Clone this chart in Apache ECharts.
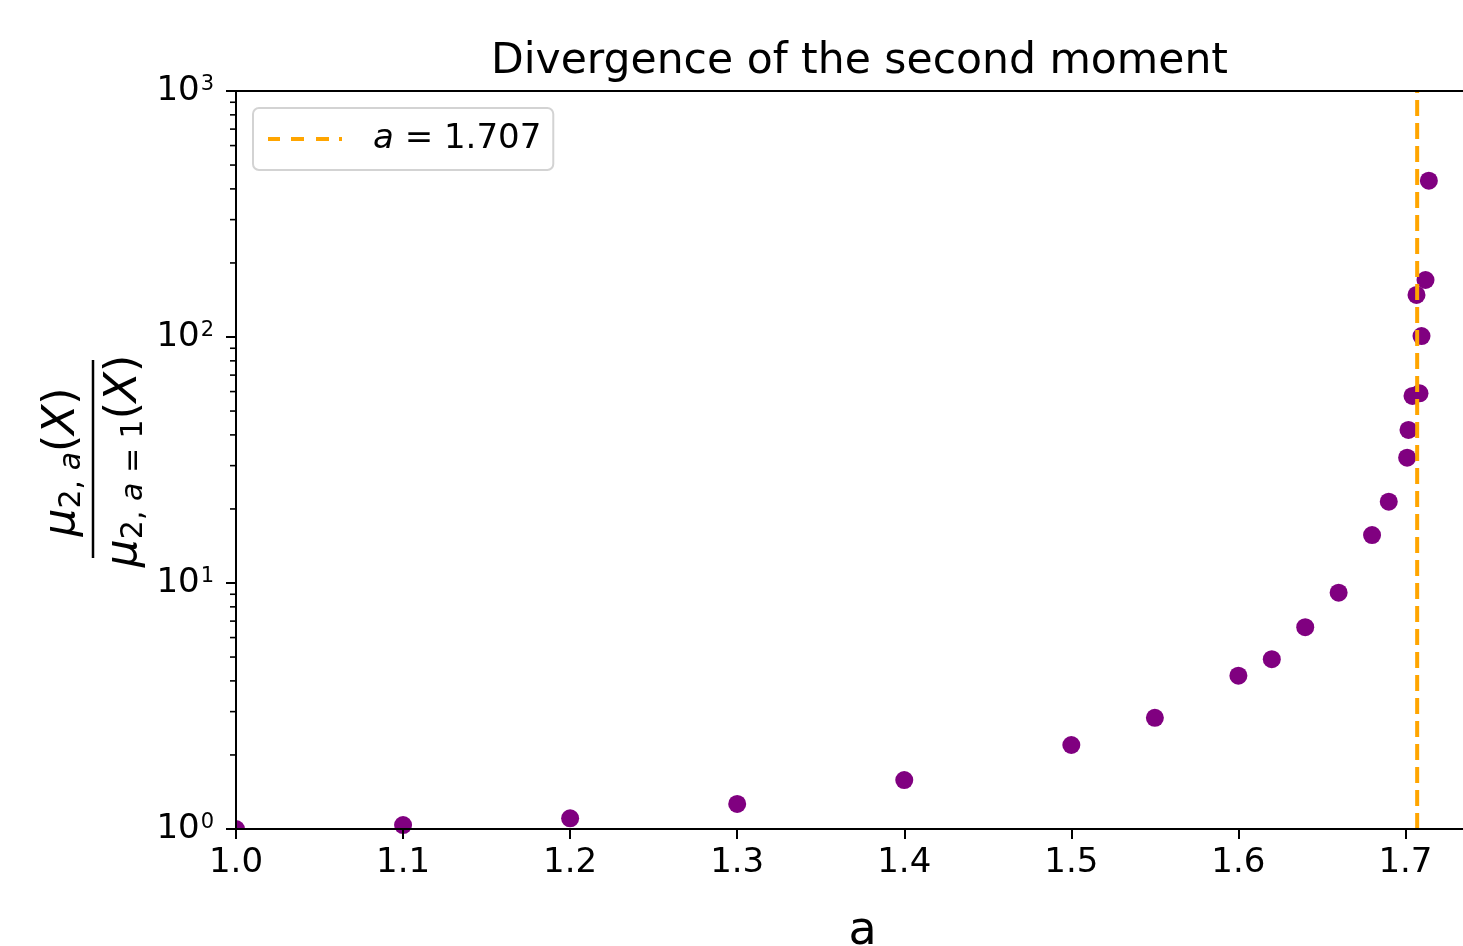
<!DOCTYPE html>
<html>
<head>
<meta charset="utf-8">
<script src="https://cdn.jsdelivr.net/npm/echarts@6/dist/echarts.min.js"></script>
<style>
  html, body { margin: 0; padding: 0; background: #fff; }
  #chart { width: 1463px; height: 946px; }
</style>
</head>
<body>
<div id="chart"></div>
<script>
// ---- data ----
const aValues = [1.0, 1.1, 1.2, 1.3, 1.4, 1.5, 1.55, 1.6, 1.62, 1.64, 1.66, 1.68, 1.69,
                 1.7010, 1.7018, 1.7042, 1.7084, 1.7096, 1.7066, 1.7120, 1.7140];
const ratioValues = [1.0, 1.038, 1.105, 1.264, 1.581, 2.195, 2.83, 4.20, 4.90, 6.61, 9.13, 15.67, 21.4,
                     32.3, 41.9, 57.6, 59.0, 100.9, 148.2, 170.5, 431.9];
const criticalA = 1.707;
const legendLabel = 'a = 1.707';
const xTickValues = [1.0, 1.1, 1.2, 1.3, 1.4, 1.5, 1.6, 1.7];
const yMinorTicks = [2, 3, 4, 5, 6, 7, 8, 9, 20, 30, 40, 50, 60, 70, 80, 90, 200, 300, 400, 500, 600, 700, 800, 900];

const X_MIN = 1.0, X_MAX = 1.75, Y_MIN = 1, Y_MAX = 1000;
const FONT = 'DejaVu Sans';

const scatterData = aValues.map((a, i) => [a, ratioValues[i]]);

const chart = echarts.init(document.getElementById('chart'), null, { renderer: 'canvas' });

const dashedIcon = 'path://M0,0h12v4h-12z M23,0h13v4h-13z M48,0h13v4h-13z M71,0h3v4h-3z';

const option = {
  animation: false,
  backgroundColor: '#ffffff',
  title: {
    text: 'Divergence of the second moment',
    left: 491,
    top: 40,
    padding: 0,
    textStyle: { fontFamily: FONT, fontSize: 42.5, fontWeight: 'normal', color: '#000' }
  },
  legend: {
    data: [{ name: legendLabel, icon: dashedIcon, itemStyle: { color: '#ffa500' } }],
    left: 253,
    top: 108,
    orient: 'vertical',
    padding: [14, 12, 14, 15],
    borderColor: '#d3d3d3',
    borderWidth: 2,
    borderRadius: 6,
    backgroundColor: '#fff',
    itemWidth: 74,
    itemHeight: 4,
    selectedMode: false,
    formatter: function () { return '{i|a} = 1.707'; },
    textStyle: {
      fontFamily: FONT, fontSize: 34, color: '#000',
      padding: [0, 0, 0, 26],
      rich: {
        i: { fontFamily: FONT, fontSize: 34, fontStyle: 'italic', color: '#000' }
      }
    }
  },
  grid: { left: 236, top: 91, right: -26, bottom: 117, containLabel: false, outerBoundsMode: 'none' },
  xAxis: [{
    type: 'value',
    min: X_MIN, max: X_MAX, interval: 0.1,
    z: 10,
    name: 'a',
    nameLocation: 'middle',
    nameGap: 80,
    nameTextStyle: { fontFamily: FONT, fontSize: 46, color: '#000' },
    axisLine: { show: true, onZero: false, lineStyle: { color: '#000', width: 2 } },
    axisTick: { show: true, inside: false, length: 10, lineStyle: { color: '#000', width: 2 } },
    axisLabel: {
      margin: 17, fontFamily: FONT, fontSize: 34, color: '#000',
      showMaxLabel: false,
      formatter: function (v) {
        const ok = xTickValues.some(t => Math.abs(t - v) < 1e-6);
        return ok ? v.toFixed(1) : '';
      }
    },
    splitLine: { show: false }
  }, {
    type: 'value',
    position: 'top',
    min: X_MIN, max: X_MAX,
    z: 10,
    axisLine: { show: true, onZero: false, lineStyle: { color: '#000', width: 2 } },
    axisTick: { show: false },
    axisLabel: { show: false },
    splitLine: { show: false }
  }],
  yAxis: {
    type: 'log',
    logBase: 10,
    min: Y_MIN, max: Y_MAX,
    z: 10,
    axisLine: { show: true, onZero: false, lineStyle: { color: '#000', width: 2 } },
    axisTick: { show: true, inside: false, length: 10, lineStyle: { color: '#000', width: 2 } },
    axisLabel: {
      margin: 22,
      formatter: function (v) {
        const e = Math.round(Math.log10(v));
        return '{b|10}{s|' + e + '}';
      },
      rich: {
        b: { fontFamily: FONT, fontSize: 34, color: '#000' },
        s: { fontFamily: FONT, fontSize: 21, color: '#000', padding: [0, 0, 12, 1] }
      }
    },
    splitLine: { show: false }
  },
  graphic: [
    // hide the part of the corner marker that lies outside the axes (matplotlib clipping)
    { type: 'rect', z: 5, shape: { x: 196, y: 808, width: 39, height: 44 }, style: { fill: '#fff' } },
    { type: 'rect', z: 5, shape: { x: 196, y: 830, width: 64, height: 22 }, style: { fill: '#fff' } },
    // y-axis label: fraction
    {
      type: 'text', z: 5, x: 63, y: 462, rotation: Math.PI / 2,
      style: {
        text: '{mi|μ}{s|2, }{si|a}{m|(}{mi|X}{m|)}',
        align: 'center', verticalAlign: 'middle',
        rich: {
          m: { fontFamily: FONT, fontSize: 44, fill: '#000' },
          mi: { fontFamily: FONT, fontSize: 44, fontStyle: 'italic', fill: '#000' },
          s: { fontFamily: FONT, fontSize: 30, fill: '#000', padding: [18, 0, 0, 0] },
          si: { fontFamily: FONT, fontSize: 30, fontStyle: 'italic', fill: '#000', padding: [18, 0, 0, 0] }
        }
      }
    },
    { type: 'line', z: 5, shape: { x1: 93, y1: 360, x2: 93, y2: 558 }, style: { stroke: '#000', lineWidth: 2.5 } },
    {
      type: 'text', z: 5, x: 125, y: 461, rotation: Math.PI / 2,
      style: {
        text: '{mi|μ}{s|2, }{si|a}{s| = 1}{m|(}{mi|X}{m|)}',
        align: 'center', verticalAlign: 'middle',
        rich: {
          m: { fontFamily: FONT, fontSize: 44, fill: '#000' },
          mi: { fontFamily: FONT, fontSize: 44, fontStyle: 'italic', fill: '#000' },
          s: { fontFamily: FONT, fontSize: 30, fill: '#000', padding: [18, 0, 0, 0] },
          si: { fontFamily: FONT, fontSize: 30, fontStyle: 'italic', fill: '#000', padding: [18, 0, 0, 0] }
        }
      }
    }
  ],
  series: [
    {
      name: 'points',
      type: 'scatter',
      xAxisIndex: 0, yAxisIndex: 0,
      data: scatterData,
      symbol: 'circle',
      symbolSize: 18,
      itemStyle: { color: '#800080', opacity: 1 },
      z: 2,
      silent: true
    },
    {
      name: legendLabel,
      type: 'line',
      xAxisIndex: 0, yAxisIndex: 0,
      data: [[criticalA, Y_MIN], [criticalA, Y_MAX]],
      symbol: 'none',
      showSymbol: false,
      lineStyle: { color: '#ffa500', width: 4, type: [16, 7] },
      itemStyle: { color: '#ffa500' },
      z: 3,
      silent: true
    },
    {
      name: 'minorTicks',
      type: 'custom',
      xAxisIndex: 0, yAxisIndex: 0,
      clip: false,
      silent: true,
      z: 10,
      data: yMinorTicks.map(v => [X_MIN, v]),
      renderItem: function (params, api) {
        const p = api.coord([api.value(0), api.value(1)]);
        return {
          type: 'line',
          shape: { x1: p[0] - 6, y1: p[1], x2: p[0], y2: p[1] },
          style: { stroke: '#000', lineWidth: 1.6 }
        };
      }
    }
  ]
};

chart.setOption(option);
</script>
</body>
</html>
